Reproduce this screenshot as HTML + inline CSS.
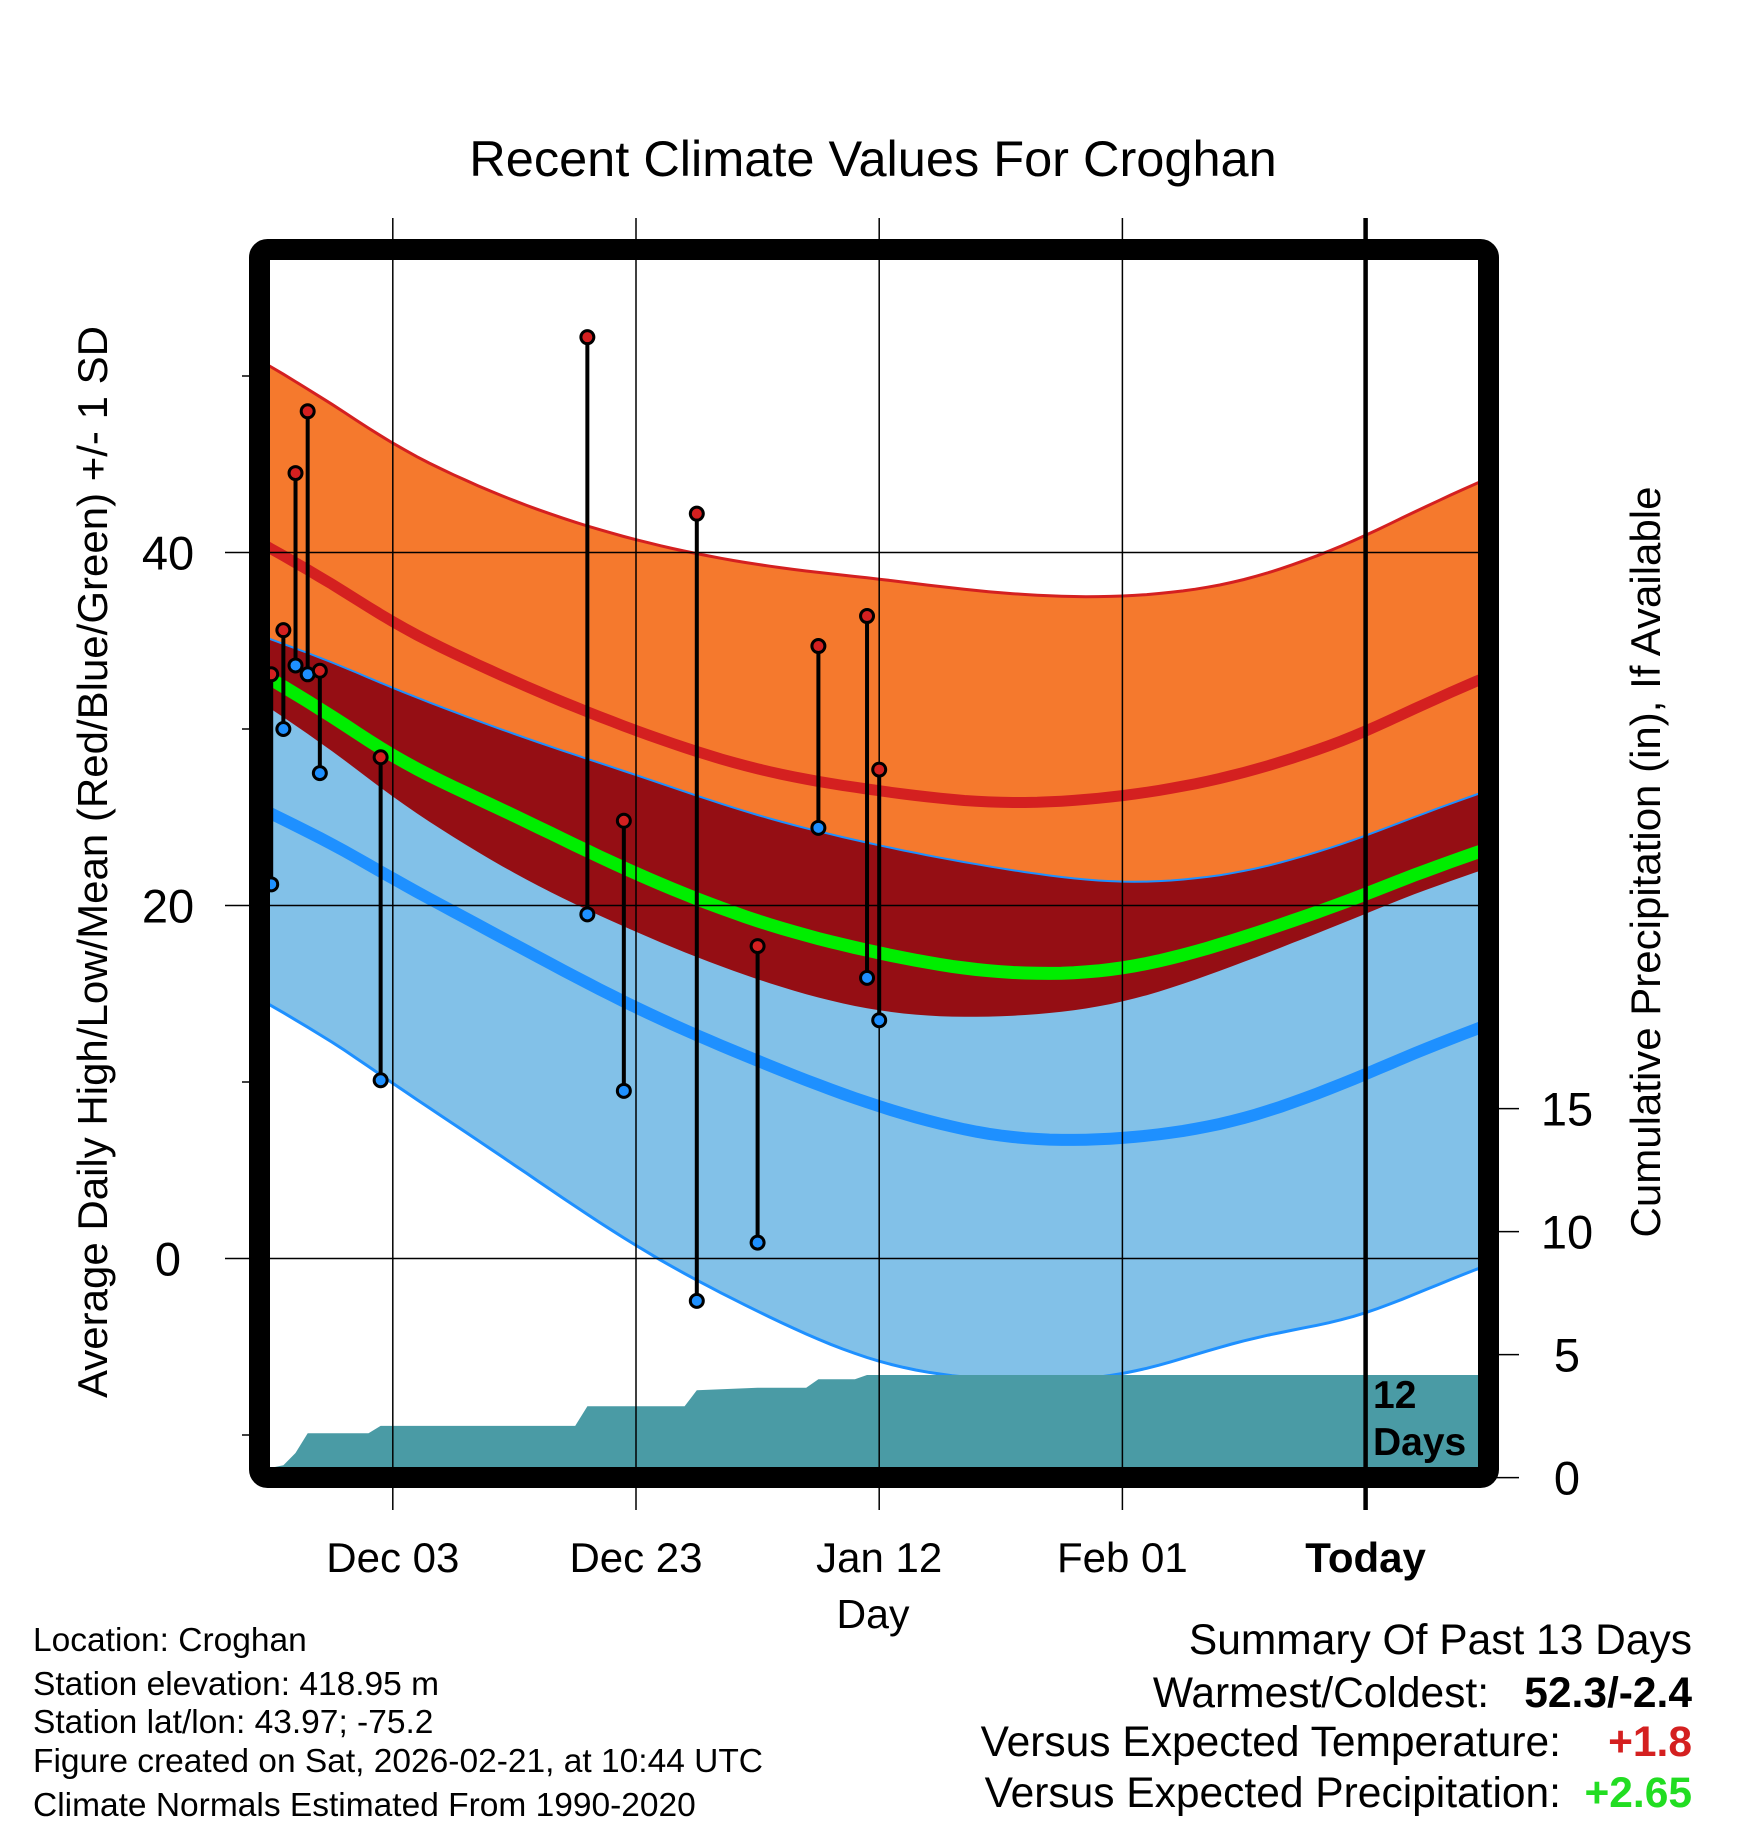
<!DOCTYPE html>
<html><head><meta charset="utf-8"><style>
html,body{margin:0;padding:0;background:#fff}
svg{display:block;font-family:"Liberation Sans",sans-serif}
</style></head><body>
<svg id="chart" width="1748" height="1828" viewBox="0 0 1748 1828">
<defs><clipPath id="plotclip"><rect x="270" y="260" width="1208" height="1208"/></clipPath></defs>
<text x="873" y="176" font-size="50.5" text-anchor="middle">Recent Climate Values For Croghan</text>
<g id="bands" clip-path="url(#plotclip)"></g>
<g id="grid"></g>
<g id="obs" clip-path="url(#plotclip)"></g>
<rect x="259.5" y="249.5" width="1229" height="1228" rx="8" fill="none" stroke="#000" stroke-width="21"/>
<g id="axes"></g>
<text x="1373" y="1408" font-size="39" font-weight="bold">12</text>
<text x="1373" y="1455" font-size="39" font-weight="bold">Days</text>
<text transform="translate(107,862) rotate(-90)" font-size="42" text-anchor="middle">Average Daily High/Low/Mean (Red/Blue/Green) +/- 1 SD</text>
<text transform="translate(1660,862) rotate(-90)" font-size="42" text-anchor="middle">Cumulative Precipitation (in), If Available</text>
<text x="873" y="1628" font-size="41" text-anchor="middle">Day</text>
<g font-size="33.5">
<text x="33" y="1651">Location: Croghan</text>
<text x="33" y="1695">Station elevation: 418.95 m</text>
<text x="33" y="1733">Station lat/lon: 43.97; -75.2</text>
<text x="33" y="1772">Figure created on Sat, 2026-02-21, at 10:44 UTC</text>
<text x="33" y="1816">Climate Normals Estimated From 1990-2020</text>
</g>
<g font-size="42.5">
<text x="1692" y="1654" text-anchor="end">Summary Of Past 13 Days</text>
<text x="1489" y="1707" text-anchor="end">Warmest/Coldest:</text>
<text x="1692" y="1707" text-anchor="end" font-weight="bold">52.3/-2.4</text>
<text x="1561" y="1756" text-anchor="end">Versus Expected Temperature:</text>
<text x="1692" y="1756" text-anchor="end" font-weight="bold" fill="#d42020">+1.8</text>
<text x="1561" y="1807" text-anchor="end">Versus Expected Precipitation:</text>
<text x="1692" y="1807" text-anchor="end" font-weight="bold" fill="#22dd22">+2.65</text>
</g>
</svg>
<script>
const normDays = [0,10,20,30,40,50,60,70,80,90,99];
const hiPlusSD = [50.4,46.1,42.9,40.7,39.3,38.5,37.7,37.5,38.4,40.9,43.8];
const hiMean   = [40.1,36.0,32.7,29.9,27.7,26.5,25.8,26.2,27.5,29.8,32.6];
const hiMinusSD= [31.0,26.1,21.8,18.5,15.8,14.0,13.7,14.5,16.8,19.5,21.8];
const loPlusSD = [35.0,32.3,29.7,27.4,25.1,23.4,22.1,21.3,21.9,23.9,26.2];
const meanAvg  = [32.7,28.4,25.1,21.8,19.1,17.3,16.2,16.4,18.2,20.6,22.9];
const loMean   = [25.1,21.5,17.8,14.2,11.2,8.6,6.9,6.8,7.9,10.4,12.9];
const loMinusSD= [14.2,9.9,5.3,0.7,-3.0,-5.9,-6.9,-6.6,-4.6,-3.2,-0.7];
const obsDays = [0,1,2,3,4,9,26,29,35,40,45,49,50];
const obsHigh = [33.1,35.6,44.5,48.0,33.3,28.4,52.2,24.8,42.2,17.7,34.7,36.4,27.7];
const obsLow  = [21.2,30.0,33.6,33.1,27.5,10.1,19.5,9.5,-2.4,0.9,24.4,15.9,13.5];
const precipDays = [0,1,2,3,8,9,25,26,34,35,40,44,45,48,49,99];
const precipVals = [0.4,0.5,1.0,1.8,1.8,2.1,2.1,2.9,2.9,3.55,3.65,3.65,4.0,4.0,4.17,4.17];
const xTickDays = [10,30,50,70,90];
const xTickLabels = ["Dec 03","Dec 23","Jan 12","Feb 01","Today"];
const yTicks = [0,20,40];
const yMinor = [-10,10,30,50];
const pTicks = [0,5,10,15];

const NS="http://www.w3.org/2000/svg";
const X = d => 271.2 + d*12.16;
const Y = v => 1258.5 - v*17.65;
const P = v => 1477.6 - v*24.6;
function mk(tag, attrs, parent){const e=document.createElementNS(NS,tag);for(const k in attrs)e.setAttribute(k,attrs[k]);parent.appendChild(e);return e;}
function interp(vals,d){
  const n=normDays.length;
  if(d<=normDays[0]){const s=(vals[1]-vals[0])/(normDays[1]-normDays[0]);return vals[0]+s*(d-normDays[0]);}
  if(d>=normDays[n-1]){const s=(vals[n-1]-vals[n-2])/(normDays[n-1]-normDays[n-2]);return vals[n-1]+s*(d-normDays[n-1]);}
  let i=0; while(i<n-2 && d>normDays[i+1]) i++;
  const d0=normDays[i], d1=normDays[i+1];
  const t=(d-d0)/(d1-d0);
  const p0=vals[Math.max(i-1,0)],p1=vals[i],p2=vals[i+1],p3=vals[Math.min(i+2,n-1)];
  const t2=t*t,t3=t2*t;
  return 0.5*((2*p1)+(-p0+p2)*t+(2*p0-5*p1+4*p2-p3)*t2+(-p0+3*p1-3*p2+p3)*t3);
}
function curve(vals){
  const pts=[];
  for(let d=-1; d<=101; d+=1){
    let s=0,n=0;
    for(let k=-4;k<=4;k++){s+=interp(vals,d+k);n++;}
    pts.push([X(d),Y(s/n)]);
  }
  return pts;
}
const ps = pts => pts.map(p=>p[0].toFixed(1)+","+p[1].toFixed(1)).join(" ");
const bands=document.getElementById("bands");
const cHP=curve(hiPlusSD), cHM=curve(hiMinusSD), cLP=curve(loPlusSD), cLM=curve(loMinusSD);
let e;
e=mk("polygon",{points:ps(cHP.concat(cHM.slice().reverse())),fill:"#f5792d"},bands);


e=mk("polygon",{points:ps(cLP.concat(cLM.slice().reverse())),fill:"#82c1e8"},bands);


e=mk("polygon",{points:ps(cLP.concat(cHM.slice().reverse())),fill:"#950e14"},bands);


e=mk("polyline",{points:ps(cHP),fill:"none",stroke:"#d42020","stroke-width":3},bands);


e=mk("polyline",{points:ps(cLP),fill:"none",stroke:"#1e90ff","stroke-width":2},bands);


e=mk("polyline",{points:ps(cLM),fill:"none",stroke:"#1e90ff","stroke-width":3},bands);


e=mk("polyline",{points:ps(curve(hiMean)),fill:"none",stroke:"#d42020","stroke-width":11},bands);


e=mk("polyline",{points:ps(curve(loMean)),fill:"none",stroke:"#1e90ff","stroke-width":12},bands);


e=mk("polyline",{points:ps(curve(meanAvg)),fill:"none",stroke:"#00ee00","stroke-width":13},bands);


let pp=[[X(precipDays[0]),1480]];
for(let i=0;i<precipDays.length;i++) pp.push([X(precipDays[i]),P(precipVals[i])]);
pp.push([1480,P(precipVals[precipVals.length-1])]);pp.push([1480,1480]);
e=mk("polygon",{points:ps(pp),fill:"#4a9ba5"},bands);



const grid=document.getElementById("grid");
xTickDays.forEach((d,i)=>{
  const today = i===xTickDays.length-1;
  e=mk("line",{x1:X(d),x2:X(d),y1:218,y2:1510,stroke:"#000","stroke-width":today?4.5:1.5},grid);
  
  
});
yTicks.forEach(v=>{
  e=mk("line",{x1:225,x2:1478,y1:Y(v),y2:Y(v),stroke:"#000","stroke-width":1.5},grid);
  
  
});
const obs=document.getElementById("obs");
obsDays.forEach((d,i)=>{
  const x=X(d);
  e=mk("line",{x1:x,x2:x,y1:Y(obsHigh[i]),y2:Y(obsLow[i]),stroke:"#000","stroke-width":4},obs);
  
  
  e=mk("circle",{cx:x,cy:Y(obsHigh[i]),r:6.5,fill:"#d42020",stroke:"#000","stroke-width":3},obs);
  
  
  e=mk("circle",{cx:x,cy:Y(obsLow[i]),r:6.5,fill:"#1e90ff",stroke:"#000","stroke-width":3},obs);
  
  
});
const axes=document.getElementById("axes");
yTicks.forEach(v=>{
  e=mk("text",{x:168,y:Y(v)+17,"font-size":47,"text-anchor":"middle"},axes);e.textContent=v;
  
  
});
yMinor.forEach(v=>{
  e=mk("line",{x1:242,x2:252,y1:Y(v),y2:Y(v),stroke:"#000","stroke-width":1.5},axes);
  
  
});
pTicks.forEach(v=>{
  e=mk("line",{x1:1495,x2:1519,y1:P(v),y2:P(v),stroke:"#000","stroke-width":1.5},axes);
  
  
  e=mk("text",{x:1567,y:P(v)+17,"font-size":47,"text-anchor":"middle"},axes);e.textContent=v;
  
  
});
xTickDays.forEach((d,i)=>{
  e=mk("text",{x:X(d),y:1572,"font-size":42,"text-anchor":"middle"},axes);e.textContent=xTickLabels[i];
  if(i===xTickDays.length-1) e.setAttribute("font-weight","bold");
  
  
});
</script>
</body></html>
